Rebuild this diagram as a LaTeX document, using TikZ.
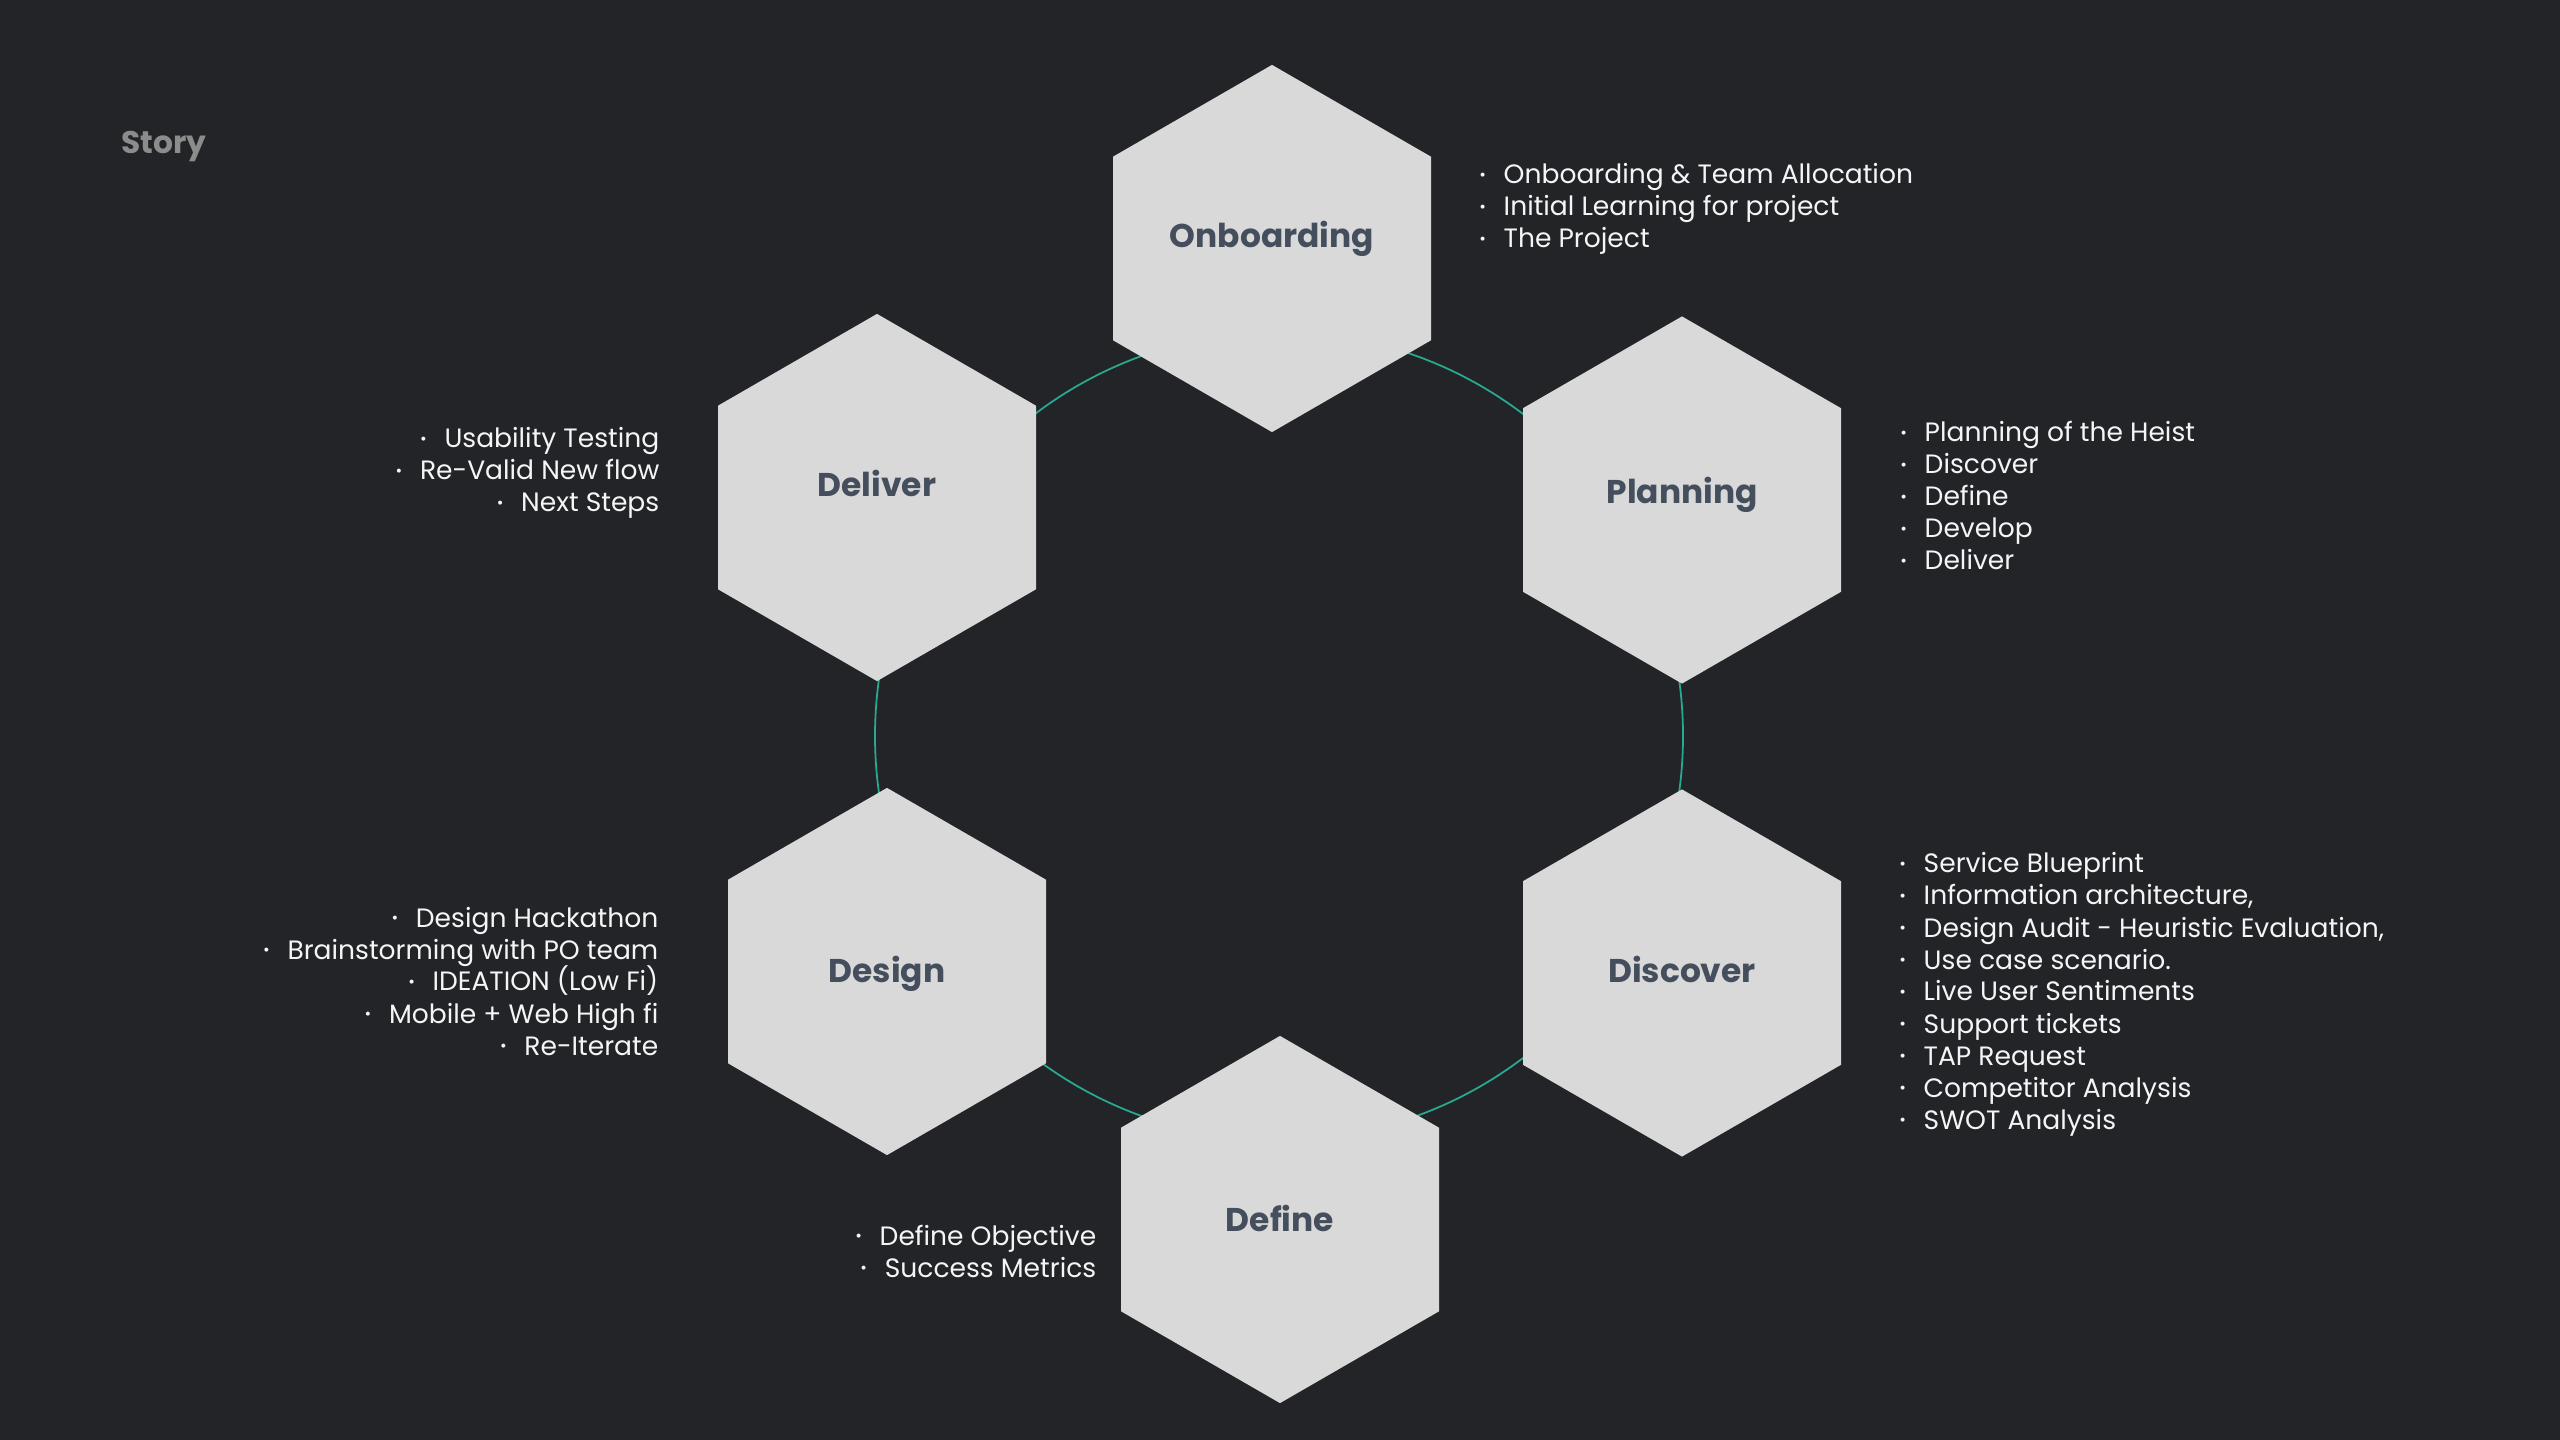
\documentclass[tikz,border=0pt]{standalone}
\usepackage{fontspec}
\setmainfont{Poppins}
\usetikzlibrary{shapes.geometric}
\definecolor{bgc}{RGB}{35,36,40}
\definecolor{hexfill}{RGB}{217,217,217}
\definecolor{hexlabel}{RGB}{68,78,92}
\definecolor{ringc}{RGB}{40,170,145}
\definecolor{storyc}{RGB}{140,140,140}
\definecolor{txtc}{RGB}{245,245,245}
\newcommand\bl{\makebox[0pt][c]{\raisebox{0.9pt}{\fontsize{4.6pt}{5pt}\selectfont •}}\hspace{0.21cm}}
\begin{document}
\begin{tikzpicture}[x=0.01cm,y=-0.01cm,
  hexnode/.style={regular polygon, regular polygon sides=6, shape border rotate=30,
    minimum size=3.67cm, inner sep=0pt, outer sep=0pt, fill=hexfill, draw=none},
  hexlab/.style={anchor=base, inner sep=0pt, text=hexlabel,
    font=\fontsize{9.35pt}{11pt}\selectfont\bfseries},
  itemL/.style={anchor=base west, inner sep=0pt, text=txtc,
    font=\fontsize{7.55pt}{9.1pt}\selectfont},
  itemR/.style={anchor=base east, inner sep=0pt, text=txtc,
    font=\fontsize{7.55pt}{9.1pt}\selectfont},
  ringline/.style={draw=ringc, line width=0.5pt}]
\useasboundingbox (0,0) rectangle (2560,1440);
\fill[bgc] (0,0) rectangle (2560,1440);

\node[anchor=base west, inner sep=0pt, text=storyc,
  font=\fontsize{8.9pt}{10pt}\selectfont\bfseries] (story) at (121,154) {Story};

\coordinate (ring) at (1279,736);
\draw[ringline] (ring) circle[radius=404];

\node[hexnode] (onb) at (1272,248.5) {};
\node[hexnode] (pla) at (1682,500) {};
\node[hexnode] (dis) at (1682,973) {};
\node[hexnode] (def) at (1280,1219.5) {};
\node[hexnode] (des) at (887,971.5) {};
\node[hexnode] (del) at (877,497.5) {};

\node[hexlab] (onbl) at (1272,248) {Onboarding};
\node[hexlab] (plal) at (1682,504) {Planning};
\node[hexlab] (disl) at (1682,982) {Discover};
\node[hexlab] (defl) at (1280,1231) {Define};
\node[hexlab] (desl) at (887,982) {Design};
\node[hexlab] (dell) at (877,497) {Deliver};

\foreach \t [count=\i from 0] in {Onboarding \& Team Allocation, Initial Learning for project, The Project}
  \node[itemL] (onbt\i) at (1482,184+32*\i) {\bl\t};
\foreach \t [count=\i from 0] in {Planning of the Heist, Discover, Define, Develop, Deliver}
  \node[itemL] (plat\i) at (1903,442+32*\i) {\bl\t};
\foreach \t [count=\i from 0] in {Service Blueprint, {Information architecture,}, {Design Audit - Heuristic Evaluation,}, Use case scenario., Live User Sentiments, Support tickets, TAP Request, Competitor Analysis, SWOT Analysis}
  \node[itemL] (dist\i) at (1902,873+32*\i) {\bl\t};
\foreach \t [count=\i from 0] in {Usability Testing, Re-Valid New flow, Next Steps}
  \node[itemR] (delt\i) at (660,448+32*\i) {\bl\t};
\foreach \t [count=\i from 0] in {Design Hackathon, Brainstorming with PO team, IDEATION (Low Fi), Mobile + Web High fi, Re-Iterate}
  \node[itemR] (dest\i) at (659,927+32*\i) {\bl\t};
\foreach \t [count=\i from 0] in {Define Objective, Success Metrics}
  \node[itemR] (deft\i) at (1097,1245+32*\i) {\bl\t};
\end{tikzpicture}
\end{document}
